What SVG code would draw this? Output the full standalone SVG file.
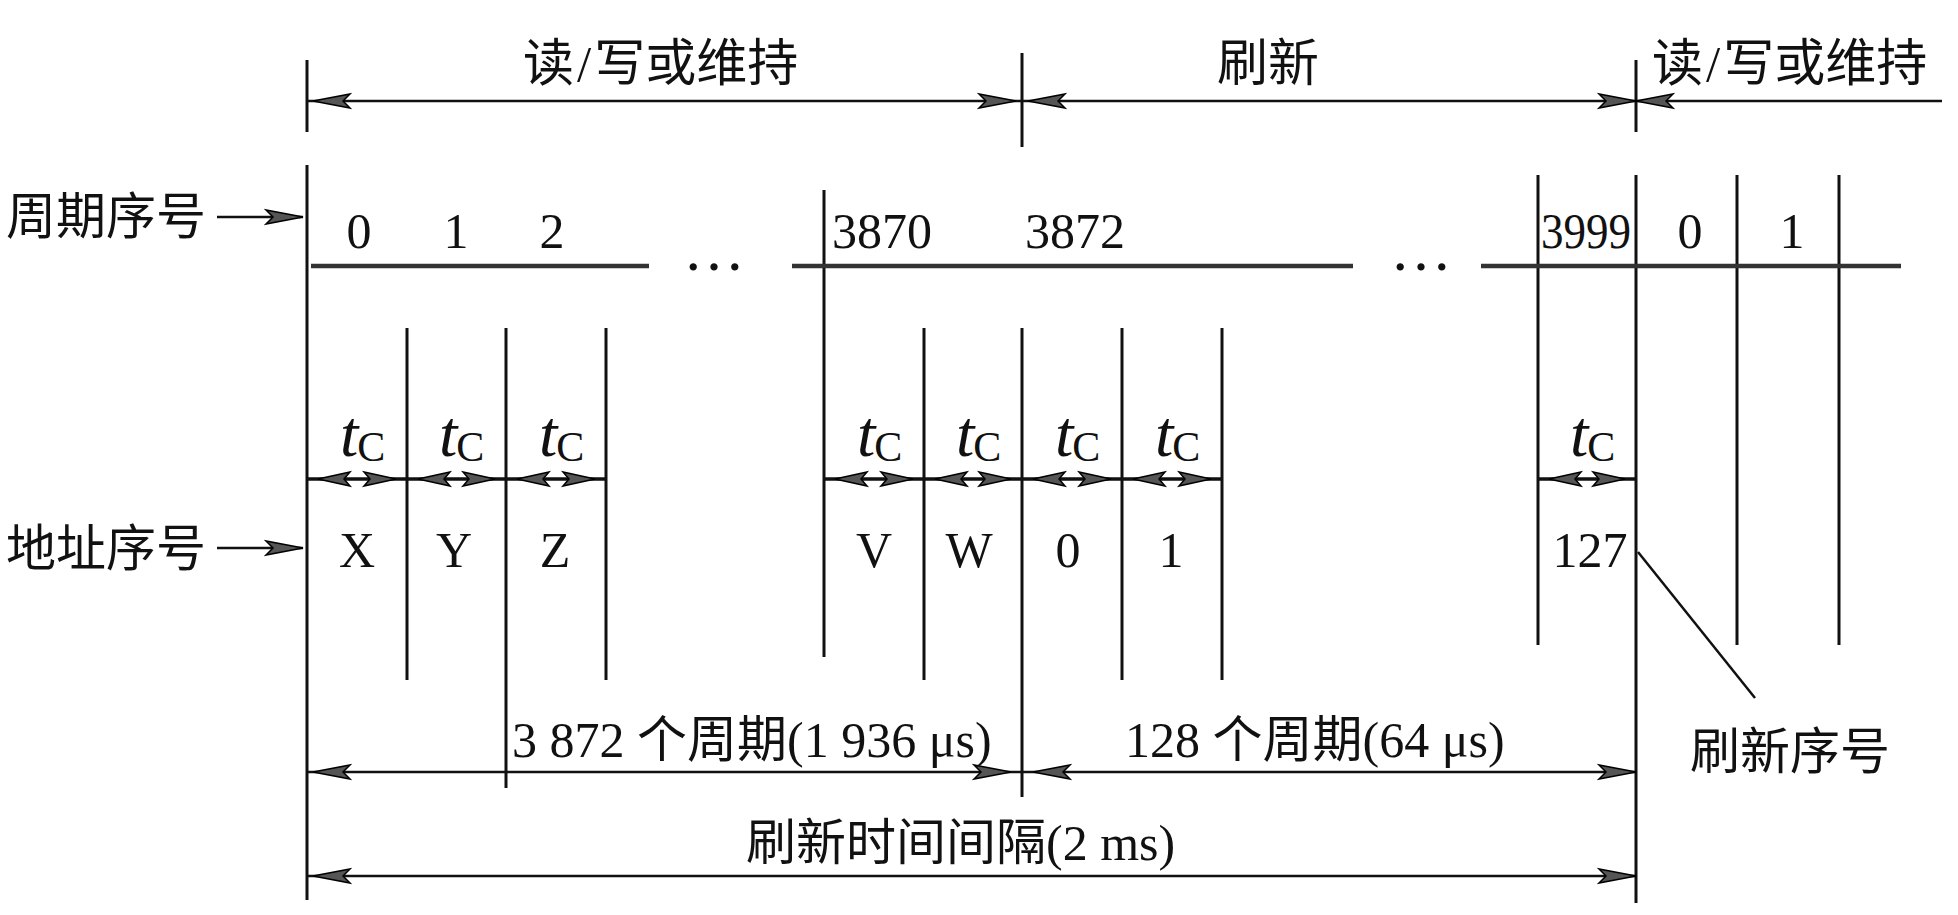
<svg xmlns="http://www.w3.org/2000/svg" width="1958" height="915" viewBox="0 0 1958 915">
<style>
  .bg { fill: #ffffff; }
  .vl { stroke: #111; stroke-width: 3; fill: none; }
  .hb { stroke: #333; stroke-width: 4.5; fill: none; }
  .ar { stroke: #111; stroke-width: 2.5; fill: none; }
  .tcar { stroke: #111; stroke-width: 3.5; fill: none; }
  .ld { stroke: #111; stroke-width: 2.5; fill: none; }
  text { fill: #111; font-family: "Liberation Serif", "Noto Sans CJK SC", serif; font-size: 50px; }
  .cjk { font-family: "Noto Sans CJK SC", "Liberation Serif", sans-serif; }
  .top { font-size: 51px; }
  .mid { text-anchor: middle; }
  .t { font-style: italic; font-size: 66px; }
  .sub { font-size: 42px; }
  .dots { font-size: 62px; text-anchor: middle; }
</style>
<defs>
  <marker id="ah0" markerUnits="userSpaceOnUse" viewBox="-45 -10 60 20" markerWidth="60" markerHeight="20" refX="0" refY="0" orient="auto-start-reverse" overflow="visible">
    <path d="M0,0 L-37,-7 L-30,0 L-37,7 Z" fill="#555" stroke="#000" stroke-width="1.5" stroke-linejoin="miter"/>
  </marker>
  <marker id="ah6" markerUnits="userSpaceOnUse" viewBox="-45 -10 60 20" markerWidth="60" markerHeight="20" refX="6" refY="0" orient="auto-start-reverse" overflow="visible">
    <path d="M0,0 L-37,-7 L-30,0 L-37,7 Z" fill="#555" stroke="#000" stroke-width="1.5"/>
  </marker>
  <marker id="ah11" markerUnits="userSpaceOnUse" viewBox="-45 -10 60 20" markerWidth="60" markerHeight="20" refX="11" refY="0" orient="auto-start-reverse" overflow="visible">
    <path d="M0,0 L-37,-7 L-30,0 L-37,7 Z" fill="#555" stroke="#000" stroke-width="1.5"/>
  </marker>
  <marker id="tc" markerUnits="userSpaceOnUse" viewBox="-45 -10 60 20" markerWidth="60" markerHeight="20" refX="11" refY="0" orient="auto-start-reverse" overflow="visible">
    <path d="M0,0 L-32,-7 L-26,0 L-32,7 Z" fill="#555" stroke="#000" stroke-width="1.5"/>
  </marker>
</defs>
<rect class="bg" x="0" y="0" width="1958" height="915"/>

<g id="grid">
  <line class="vl" x1="307" y1="60" x2="307" y2="132"/>
  <line class="vl" x1="307" y1="165" x2="307" y2="900"/>
  <line class="vl" x1="407" y1="328" x2="407" y2="680"/>
  <line class="vl" x1="506" y1="328" x2="506" y2="788"/>
  <line class="vl" x1="606" y1="328" x2="606" y2="680"/>
  <line class="vl" x1="824" y1="190" x2="824" y2="657"/>
  <line class="vl" x1="924" y1="328" x2="924" y2="680"/>
  <line class="vl" x1="1022" y1="53" x2="1022" y2="147"/>
  <line class="vl" x1="1022" y1="328" x2="1022" y2="797"/>
  <line class="vl" x1="1122" y1="328" x2="1122" y2="680"/>
  <line class="vl" x1="1222" y1="328" x2="1222" y2="680"/>
  <line class="vl" x1="1538" y1="175" x2="1538" y2="645"/>
  <line class="vl" x1="1636" y1="60" x2="1636" y2="132"/>
  <line class="vl" x1="1636" y1="175" x2="1636" y2="903"/>
  <line class="vl" x1="1737" y1="175" x2="1737" y2="645"/>
  <line class="vl" x1="1839" y1="175" x2="1839" y2="645"/>
  <line class="hb" x1="311" y1="266" x2="649" y2="266"/>
  <line class="hb" x1="792" y1="266" x2="1353" y2="266"/>
  <line class="hb" x1="1481" y1="266" x2="1901" y2="266"/>
</g>

<g id="connectors">
  <line class="ar" x1="307" y1="101" x2="1022" y2="101" marker-start="url(#ah6)" marker-end="url(#ah6)"/>
  <line class="ar" x1="1022" y1="101" x2="1636" y2="101" marker-start="url(#ah6)" marker-end="url(#ah0)"/>
  <line class="ar" x1="1636" y1="101" x2="1942" y2="101" marker-start="url(#ah0)"/>
  <line class="ar" x1="217" y1="217" x2="303" y2="217" marker-end="url(#ah0)"/>
  <line class="ar" x1="217" y1="548" x2="303" y2="548" marker-end="url(#ah0)"/>
  <line class="tcar" x1="307" y1="479" x2="407" y2="479" marker-start="url(#tc)" marker-end="url(#tc)"/>
  <line class="tcar" x1="407" y1="479" x2="506" y2="479" marker-start="url(#tc)" marker-end="url(#tc)"/>
  <line class="tcar" x1="506" y1="479" x2="606" y2="479" marker-start="url(#tc)" marker-end="url(#tc)"/>
  <line class="tcar" x1="824" y1="479" x2="924" y2="479" marker-start="url(#tc)" marker-end="url(#tc)"/>
  <line class="tcar" x1="924" y1="479" x2="1022" y2="479" marker-start="url(#tc)" marker-end="url(#tc)"/>
  <line class="tcar" x1="1022" y1="479" x2="1122" y2="479" marker-start="url(#tc)" marker-end="url(#tc)"/>
  <line class="tcar" x1="1122" y1="479" x2="1222" y2="479" marker-start="url(#tc)" marker-end="url(#tc)"/>
  <line class="tcar" x1="1538" y1="479" x2="1636" y2="479" marker-start="url(#tc)" marker-end="url(#tc)"/>
  <line class="ar" x1="307" y1="772" x2="1022" y2="772" marker-start="url(#ah6)" marker-end="url(#ah11)"/>
  <line class="ar" x1="1022" y1="772" x2="1636" y2="772" marker-start="url(#ah11)" marker-end="url(#ah0)"/>
  <line class="ar" x1="307" y1="876" x2="1636" y2="876" marker-start="url(#ah6)" marker-end="url(#ah0)"/>
  <line class="ld" x1="1638" y1="552" x2="1755" y2="698"/>
</g>

<g id="phase-labels">
  <text class="cjk top" x="523" y="81">读<tspan dx="3" font-family="Liberation Serif">/</tspan><tspan dx="3">写或维持</tspan></text>
  <text class="cjk top" x="1217" y="81">刷新</text>
  <text class="cjk top" x="1652" y="81">读<tspan dx="3" font-family="Liberation Serif">/</tspan><tspan dx="3">写或维持</tspan></text>
</g>

<g id="row-labels">
  <text class="cjk" x="6" y="234">周期序号</text>
  <text class="cjk" x="6" y="566">地址序号</text>
  <text class="cjk" x="1690" y="769">刷新序号</text>
</g>

<g id="cycle-numbers">
  <text class="mid" x="359" y="248">0</text>
  <text class="mid" x="456" y="248">1</text>
  <text class="mid" x="552" y="248">2</text>
  <text class="dots" x="714" y="270">…</text>
  <text x="832" y="248">3870</text>
  <text x="1025" y="248">3872</text>
  <text class="dots" x="1421" y="270">…</text>
  <text x="1541" y="248" textLength="90" lengthAdjust="spacingAndGlyphs">3999</text>
  <text class="mid" x="1690" y="248">0</text>
  <text class="mid" x="1792" y="248">1</text>
</g>

<g id="tc-labels">
  <text x="340" y="456"><tspan class="t">t</tspan><tspan class="sub" dx="-1" dy="5">C</tspan></text>
  <text x="439" y="456"><tspan class="t">t</tspan><tspan class="sub" dx="-1" dy="5">C</tspan></text>
  <text x="539" y="456"><tspan class="t">t</tspan><tspan class="sub" dx="-1" dy="5">C</tspan></text>
  <text x="857" y="456"><tspan class="t">t</tspan><tspan class="sub" dx="-1" dy="5">C</tspan></text>
  <text x="956" y="456"><tspan class="t">t</tspan><tspan class="sub" dx="-1" dy="5">C</tspan></text>
  <text x="1055" y="456"><tspan class="t">t</tspan><tspan class="sub" dx="-1" dy="5">C</tspan></text>
  <text x="1155" y="456"><tspan class="t">t</tspan><tspan class="sub" dx="-1" dy="5">C</tspan></text>
  <text x="1570" y="456"><tspan class="t">t</tspan><tspan class="sub" dx="-1" dy="5">C</tspan></text>
</g>

<g id="address-numbers">
  <text class="mid" x="357" y="567">X</text>
  <text class="mid" x="454" y="567">Y</text>
  <text class="mid" x="555" y="567">Z</text>
  <text class="mid" x="874" y="567">V</text>
  <text class="mid" x="969" y="567">W</text>
  <text class="mid" x="1068" y="567">0</text>
  <text class="mid" x="1171" y="567">1</text>
  <text class="mid" x="1590" y="567">127</text>
</g>

<g id="interval-labels">
  <text x="512" y="757">3 872 个周期(1 936 μs)</text>
  <text x="1125" y="757">128 个周期(64 μs)</text>
  <text x="746" y="860">刷新时间间隔(2 ms)</text>
</g>
</svg>
